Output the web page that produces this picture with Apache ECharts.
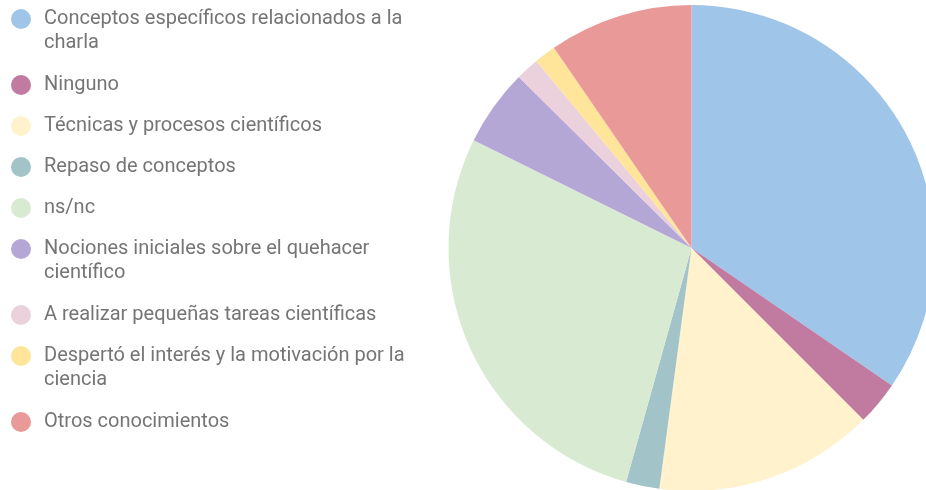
<!DOCTYPE html>
<html>
<head>
<meta charset="utf-8">
<script src="https://cdn.jsdelivr.net/npm/echarts@6/dist/echarts.min.js"></script>
<style>
  html, body { margin: 0; padding: 0; background: #fff; }
  #chart { width: 926px; height: 490px; }
</style>
</head>
<body>
<div id="chart"></div>
<script>
const categories = [
  'Conceptos específicos relacionados a la charla',
  'Ninguno',
  'Técnicas y procesos científicos',
  'Repaso de conceptos',
  'ns/nc',
  'Nociones iniciales sobre el quehacer científico',
  'A realizar pequeñas tareas científicas',
  'Despertó el interés y la motivación por la ciencia',
  'Otros conocimientos'
];
const values = [34.56, 2.94, 14.61, 2.22, 27.97, 5.11, 1.56, 1.44, 9.58];
const colors = ['#9fc5e8', '#c27ba0', '#fff2cc', '#a2c4c9', '#d9ead3', '#b4a7d6', '#ead1dc', '#ffe599', '#ea9999'];

// long names wrap onto a second line in the original legend
const wrapped = {
  'Conceptos específicos relacionados a la charla': 'Conceptos específicos relacionados a la\ncharla',
  'Nociones iniciales sobre el quehacer científico': 'Nociones iniciales sobre el quehacer\ncientífico',
  'Despertó el interés y la motivación por la ciencia': 'Despertó el interés y la motivación por la\nciencia'
};

// split into blocks so a wrapped item ends each block
const legendGroups = [[0], [1, 2, 3, 4, 5], [6, 7], [8]];
const legendTops = [7, 73, 303, 410];

const font = {
  fontFamily: 'Roboto',
  fontSize: 20,
  lineHeight: 24,
  color: '#757575'
};

const chart = echarts.init(document.getElementById('chart'), null, { renderer: 'canvas' });

const legends = legendGroups.map((idx, i) => ({
  orient: 'vertical',
  left: 11,
  top: legendTops[i],
  padding: 0,
  itemGap: 17,
  itemWidth: 20,
  itemHeight: 20,
  icon: 'circle',
  selectedMode: false,
  // rich text keeps the first line level with the icon, second line hangs below
  formatter: name => wrapped[name] ? '{w|' + wrapped[name] + '}' : name,
  textStyle: Object.assign({
    padding: [0, 0, 0, 8],
    rich: { w: Object.assign({}, font) }
  }, font),
  data: idx.map(k => wrapped[categories[k]]
    ? { name: categories[k], textStyle: { height: 24 } }
    : { name: categories[k] })
}));

chart.setOption({
  animation: false,
  color: colors,
  legend: legends,
  series: [{
    type: 'pie',
    center: [691.5, 248],
    radius: 243,
    startAngle: 90,
    clockwise: true,
    label: { show: false },
    labelLine: { show: false },
    emphasis: { disabled: true },
    data: categories.map((c, i) => ({ name: c, value: values[i] }))
  }]
});
</script>
</body>
</html>
